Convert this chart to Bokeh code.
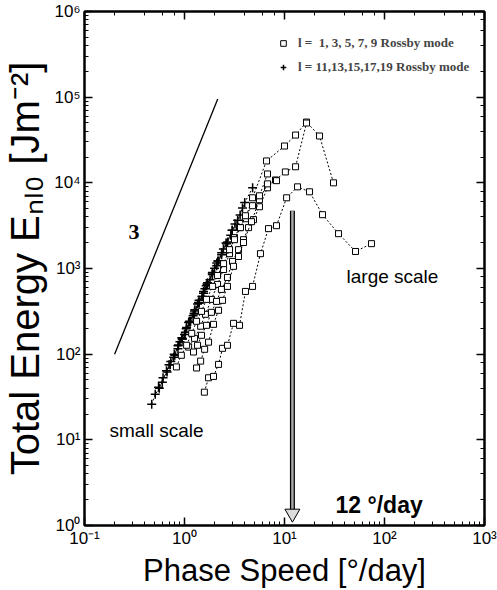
from bokeh.plotting import figure
from bokeh.models import LogAxis, CustomJSTickFormatter, Legend, LegendItem, Label
from bokeh.embed import file_html
from bokeh.resources import INLINE

# ---------------- data (phase speed [deg/day], total energy [J m^-2]) ----------------
# square series : l = 1, 3, 5, 7, 9 Rossby modes
sq_a_c = [1.58, 1.74, 1.95, 2.19, 2.40, 2.69, 3.09, 3.55, 4.07, 4.79, 5.75, 6.92, 8.32, 10.5, 13.5, 17.8, 24.0, 34.7, 51.3, 74.1]
sq_a_e = [36, 53, 55, 76, 117, 127, 229, 217, 540, 618, 1490, 2920, 3160, 6690, 8980, 7860, 4250, 2550, 1580, 1950]
sq_b_c = [1.10, 1.26, 1.45, 1.62, 1.86, 2.14, 2.46, 2.82, 3.16, 3.55, 4.07, 4.79, 6.61, 10.0, 12.9, 16.6, 22.4, 30.9]
sq_b_e = [121, 153, 212, 292, 436, 652, 973, 1490, 2290, 3000, 3810, 6690, 18000, 26900, 36100, 51200, 35200, 10000]
sq_c_c = [1.23, 1.35, 1.48, 1.66, 1.86, 2.09, 2.34, 2.69, 3.02, 3.47, 3.89, 4.37, 4.90, 5.62, 6.76, 8.13, 10.2, 12.9, 16.6]
sq_c_e = [106, 127, 166, 217, 308, 413, 570, 786, 1210, 1660, 2170, 3000, 3720, 5260, 8750, 10800, 13400, 15400, 49900]
sq_d_c = [1.32, 1.45, 1.59, 1.74, 1.95, 2.19, 2.40, 2.69, 3.09, 3.47, 3.89, 4.68, 5.62, 6.76, 8.32]
sq_d_e = [69, 83, 114, 138, 223, 325, 425, 618, 1060, 1380, 2010, 3520, 6350, 9730, 10600]
sq_e_c = [0.83, 0.93, 1.05, 1.18, 1.32, 1.48, 1.66, 1.91, 2.14, 2.46, 2.82, 3.16, 3.63, 4.07, 4.79, 5.62, 6.76]
sq_e_e = [71, 97, 127, 175, 242, 316, 436, 618, 829, 1140, 1660, 2170, 3000, 4130, 5410, 7060, 12700]

# plus series : l = 11, 13, 15, 17, 19 Rossby modes
p11_c = [1.1, 1.25, 1.4, 1.55, 1.7, 1.9, 2.1, 2.35, 2.6, 2.9, 3.2, 3.6, 4.0, 4.8]
p11_e = [235, 300, 425, 515, 680, 860, 1160, 1450, 1980, 2450, 3300, 4200, 5900, 8750]
p13_c = [0.9, 1.0, 1.12, 1.25, 1.38, 1.5, 1.65, 1.8, 2.0, 2.2, 2.45, 2.7, 3.0, 3.4, 3.8]
p13_e = [140, 170, 240, 295, 400, 470, 630, 740, 1010, 1220, 1690, 2040, 2800, 3650, 5100]
p15_c = [0.7, 0.78, 0.86, 0.95, 1.05, 1.15, 1.27, 1.4, 1.55, 1.7, 1.9, 2.1, 2.35, 2.65, 3.0]
p15_e = [75, 92, 125, 150, 205, 240, 330, 395, 540, 640, 900, 1080, 1530, 1950, 2800]
p17_c = [0.55, 0.6, 0.66, 0.72, 0.79, 0.86, 0.94, 1.02, 1.12, 1.22, 1.35, 1.5, 1.68, 1.9, 2.15]
p17_e = [41, 47, 64, 75, 100, 116, 155, 180, 240, 280, 385, 470, 660, 850, 1220]
p19_c = [0.47, 0.51, 0.56, 0.61, 0.67, 0.73, 0.8, 0.87, 0.95, 1.04, 1.14, 1.26, 1.4, 1.6]
p19_e = [26, 34, 40, 53, 62, 82, 97, 128, 150, 198, 236, 320, 395, 580]

# slope-3 reference line
slope_c = [0.2, 2.15]
slope_e = [100, 95000]

# 12 deg/day marker arrow
arrow_c = 12.0
arrow_top_e = 4730
arrow_bot_e = 1.53
arrow_head_e = 1.38

legend_labels = ["l =  1, 3, 5, 7, 9 Rossby mode", "l = 11,13,15,17,19 Rossby mode"]

FONT = "Liberation Sans"

p = figure(width=497, height=590, x_axis_type="log", y_axis_type="log",
           x_range=(0.1, 1000), y_range=(1, 1e6),
           output_backend="svg", toolbar_location=None,
           min_border_left=83, min_border_right=13, min_border_top=11, min_border_bottom=63)
p.background_fill_color = "white"
p.border_fill_color = "white"
p.grid.visible = False
p.outline_line_color = "black"
p.outline_line_width = 2

sup_fmt = CustomJSTickFormatter(code="""
const sup = {"-": "\u207b", "0": "\u2070", "1": "\u00b9", "2": "\u00b2", "3": "\u00b3",
             "4": "\u2074", "5": "\u2075", "6": "\u2076", "7": "\u2077", "8": "\u2078", "9": "\u2079"};
const e = Math.round(Math.log10(tick));
return "10" + String(e).split("").map(c => sup[c]).join("");
""")

def style_axis(ax):
    ax.axis_line_width = 2
    ax.major_tick_in = 8
    ax.major_tick_out = 0
    ax.minor_tick_in = 4
    ax.minor_tick_out = 0
    ax.major_tick_line_width = 1.5
    ax.minor_tick_line_width = 1
    ax.major_label_text_font = FONT
    ax.major_label_text_font_size = "17px"
    ax.major_label_text_color = "black"
    ax.axis_label_text_font = FONT
    ax.axis_label_text_font_style = "normal"
    ax.axis_label_text_color = "black"

xa = p.xaxis[0]
ya = p.yaxis[0]
for ax in (xa, ya):
    style_axis(ax)
    ax.formatter = sup_fmt
xa.axis_label = "Phase Speed [°/day]"
xa.axis_label_text_font_size = "31px"
xa.axis_label_standoff = 2
xa.major_label_standoff = 3
ya.axis_label = "Total Energy Eₙₗ₀ [Jm⁻²]"
ya.axis_label_text_font_size = "40px"
ya.axis_label_standoff = 4
ya.major_label_standoff = 4

for side in ("above", "right"):
    ax = LogAxis(formatter=CustomJSTickFormatter(code="return ''"))
    style_axis(ax)
    ax.major_label_text_font_size = "0px"
    ax.major_label_standoff = 0
    p.add_layout(ax, side)

# slope reference line
p.line(slope_c, slope_e, line_color="black", line_width=1.3)

# plus series (drawn first, dotted joins)
pl_series = [(p11_c, p11_e), (p13_c, p13_e), (p15_c, p15_e), (p17_c, p17_e), (p19_c, p19_e)]
pl_renderers = []
for cx, ex in pl_series:
    p.line(cx, ex, line_color="black", line_width=1, line_dash="2 2")
    r = p.scatter(cx, ex, marker="cross", size=9, line_color="black", line_width=1.5)
    pl_renderers.append(r)

# square series with dotted connecting lines
sq_series = [(sq_a_c, sq_a_e), (sq_b_c, sq_b_e), (sq_c_c, sq_c_e), (sq_d_c, sq_d_e), (sq_e_c, sq_e_e)]
sq_renderers = []
for cx, ex in sq_series:
    p.line(cx, ex, line_color="black", line_width=1, line_dash="2 2")
    r = p.scatter(cx, ex, marker="square", size=6, fill_color="white", line_color="black", line_width=1)
    sq_renderers.append(r)

# arrow at 12 deg/day
p.segment(x0=[arrow_c], y0=[arrow_top_e], x1=[arrow_c], y1=[arrow_bot_e], line_color="black", line_width=5)
p.segment(x0=[arrow_c], y0=[arrow_top_e], x1=[arrow_c], y1=[arrow_bot_e], line_color="#a8a8a8", line_width=2.5)
p.scatter([arrow_c], [arrow_head_e], marker="inverted_triangle", size=15, fill_color="#dcdcdc",
          line_color="black", line_width=1)

# annotations
p.add_layout(Label(x=0.275, y=2700, text="3", text_font="Liberation Serif", text_font_style="bold",
                   text_font_size="22px", text_baseline="alphabetic", text_color="black"))
p.add_layout(Label(x=0.178, y=13.0, text="small scale", text_font=FONT, text_font_size="19px",
                   text_baseline="alphabetic", text_color="black"))
p.add_layout(Label(x=41.7, y=800, text="large scale", text_font=FONT, text_font_size="19px",
                   text_baseline="alphabetic", text_color="black"))
p.add_layout(Label(x=32.4, y=1.75, text="12 °/day", text_font=FONT, text_font_style="bold",
                   text_font_size="23px", text_baseline="alphabetic", text_color="black"))

legend = Legend(items=[LegendItem(label=legend_labels[0], renderers=[sq_renderers[0]]),
                       LegendItem(label=legend_labels[1], renderers=[pl_renderers[0]])],
                location=(192, 450), orientation="vertical",
                border_line_alpha=0, background_fill_alpha=0,
                label_text_font="Liberation Serif", label_text_font_style="bold",
                label_text_font_size="13px", glyph_width=14, glyph_height=16,
                label_standoff=8, spacing=8, padding=0, margin=0)
p.add_layout(legend)

open("out.html", "w").write(file_html(p, INLINE))
